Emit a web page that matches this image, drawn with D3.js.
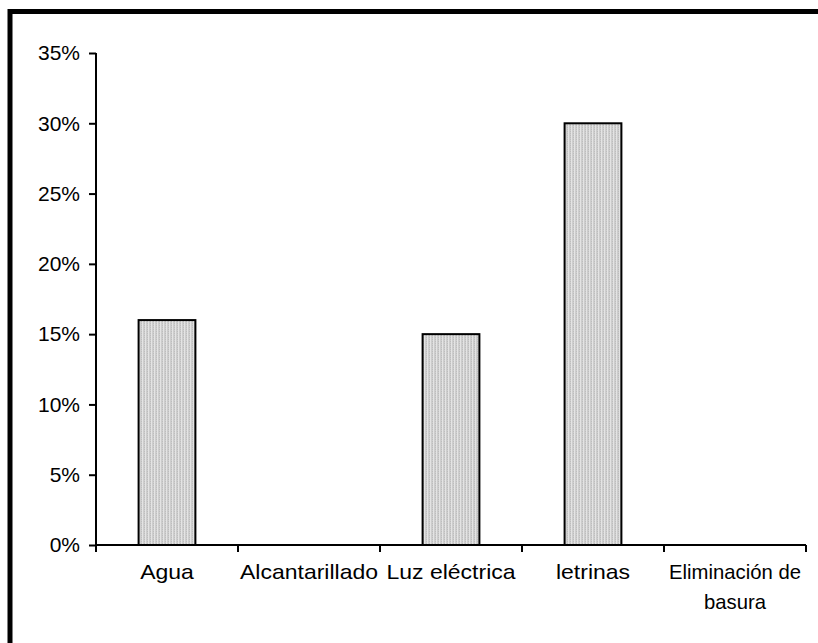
<!DOCTYPE html>
<html>
<head>
<meta charset="utf-8">
<script src="https://cdn.jsdelivr.net/npm/d3@7"></script>
<style>
  html, body { margin: 0; padding: 0; background: #fff; }
  svg { display: block; }
  text { font-family: "Liberation Sans", Arial, sans-serif; fill: #000; }
</style>
</head>
<body>
<div id="chart"></div>
<script>
// Servicios básicos: porcentaje por categoría
const categories = ["Agua", "Alcantarillado", "Luz eléctrica", "letrinas", "Eliminación de basura"];
const categoryLines = [["Agua"], ["Alcantarillado"], ["Luz eléctrica"], ["letrinas"], ["Eliminación de", "basura"]];
const values = [0.16, 0, 0.15, 0.30, 0];
const yTicks = [0, 0.05, 0.10, 0.15, 0.20, 0.25, 0.30, 0.35];

const W = 818, H = 643;
const x0 = 96, x1 = 806, yTop = 53, yBottom = 545;

const svg = d3.select("#chart").append("svg")
  .attr("width", W).attr("height", H);

// bar texture: light grey with fine vertical stripes
const defs = svg.append("defs");
const pat = defs.append("pattern")
  .attr("id", "stipple").attr("patternUnits", "userSpaceOnUse")
  .attr("width", 3).attr("height", 2);
pat.append("rect").attr("width", 3).attr("height", 2).attr("fill", "#cdcdcd");
pat.append("rect").attr("x", 1).attr("width", 1).attr("height", 2).attr("fill", "#e4e4e4");
pat.append("rect").attr("x", 0).attr("y", 1).attr("width", 1).attr("height", 1).attr("fill", "#bdbdbd");

// outer frame (top and left edges visible)
svg.append("rect")
  .attr("x", 10).attr("y", 11.5)
  .attr("width", W + 20).attr("height", H + 20)
  .attr("fill", "none").attr("stroke", "#000").attr("stroke-width", 5);

const x = d3.scaleBand().domain(categories).range([x0, x1])
  .paddingInner(0.6).paddingOuter(0.3);
const y = d3.scaleLinear().domain([0, 0.35]).range([yBottom, yTop]);

// bars
svg.append("g").selectAll("rect")
  .data(categories.map((c, i) => ({ c, v: values[i] })).filter(d => d.v > 0))
  .join("rect")
  .attr("x", d => x(d.c))
  .attr("y", d => y(d.v))
  .attr("width", x.bandwidth())
  .attr("height", d => y(0) - y(d.v))
  .attr("fill", "url(#stipple)")
  .attr("stroke", "#000").attr("stroke-width", 2);

// y axis
const yAxis = d3.axisLeft(y).tickValues(yTicks)
  .tickFormat(d3.format(".0%")).tickSize(7).tickPadding(9);
const gy = svg.append("g").attr("transform", `translate(${x0},0)`).call(yAxis);
gy.select(".domain").attr("stroke", "#000").attr("stroke-width", 2)
  .attr("d", `M0,${yTop}V${yBottom}`);
gy.selectAll(".tick line").attr("stroke", "#000").attr("stroke-width", 2);
gy.selectAll(".tick text").attr("font-size", 21)
  .attr("font-family", "'Liberation Sans', Arial, sans-serif");

// x axis: boundary ticks between categories
const boundaries = d3.range(categories.length + 1).map(i => x0 + i * x.step());
const gx = svg.append("g");
gx.append("line").attr("x1", x0).attr("x2", x1)
  .attr("y1", yBottom).attr("y2", yBottom)
  .attr("stroke", "#000").attr("stroke-width", 2);
gx.selectAll("line.tick").data(boundaries).join("line")
  .attr("class", "tick")
  .attr("x1", d => d).attr("x2", d => d)
  .attr("y1", yBottom).attr("y2", yBottom + 7)
  .attr("stroke", "#000").attr("stroke-width", 2);

// category labels (single-line labels are set slightly wide)
const lbl = svg.append("g").selectAll("text")
  .data(categories.map((c, i) => ({ c, lines: categoryLines[i] })))
  .join("text")
  .attr("text-anchor", "middle")
  .attr("font-size", d => d.lines.length > 1 ? 20.3 : 20)
  .attr("transform", d => `translate(${x(d.c) + x.bandwidth() / 2},579)` +
    (d.lines.length > 1 ? "" : " scale(1.15,1)"));
lbl.selectAll("tspan").data(d => d.lines).join("tspan")
  .attr("x", 0).attr("dy", (d, i) => i === 0 ? 0 : 30)
  .text(d => d);
</script>
</body>
</html>
